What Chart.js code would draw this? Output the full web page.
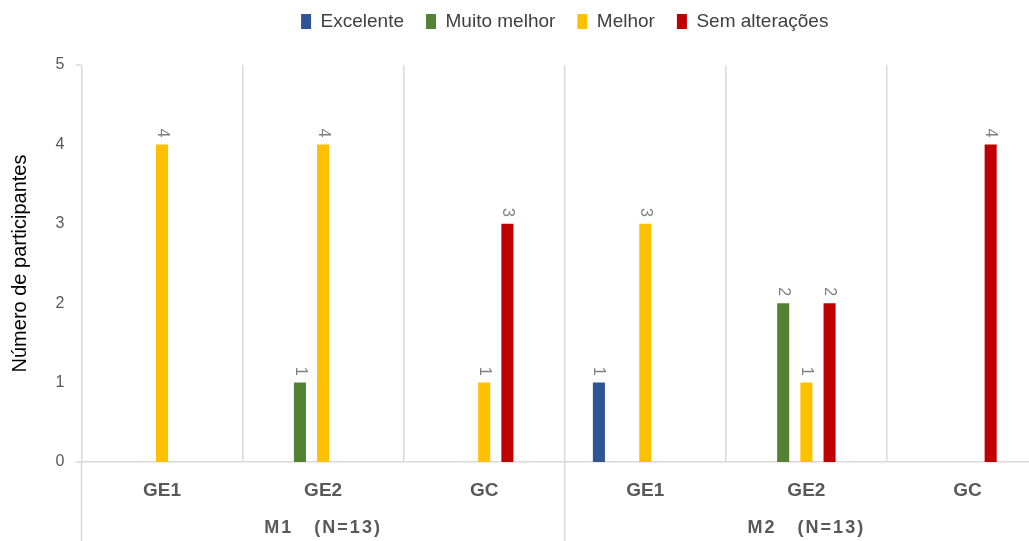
<!DOCTYPE html>
<html>
<head>
<meta charset="utf-8">
<script src="https://cdn.jsdelivr.net/npm/chart.js@4/dist/chart.umd.min.js"></script>
<style>
  html, body { margin: 0; padding: 0; background: #fff; overflow: hidden; }
</style>
</head>
<body>
<canvas id="myChart" width="1050" height="541"></canvas>
<script>
// categories, two levels
const categories = ['GE1', 'GE2', 'GC', 'GE1', 'GE2', 'GC'];
const groups = ['M1   (N=13)', 'M2   (N=13)'];
const groupSize = 3;

// series values (null = no bar)
const excelente = [null, null, null, 1, null, null];
const muitoMelhor = [null, 1, null, null, 2, null];
const melhor = [4, 4, 1, 3, 1, null];
const semAlteracoes = [null, null, 3, null, 2, 4];
const emptySlot = [null, null, null, null, null, null]; // empty 5th slot in the original

const yTicks = [0, 1, 2, 3, 4, 5];

const gridGrey = '#d9d9d9';
const textGrey = '#595959';

// rotated value labels above bars
const valueLabels = {
  id: 'valueLabels',
  afterDatasetsDraw(chart) {
    const ctx = chart.ctx;
    ctx.save();
    ctx.fillStyle = '#808080';
    ctx.font = '16px "Liberation Sans", Arial, sans-serif';
    chart.data.datasets.forEach((ds, i) => {
      const meta = chart.getDatasetMeta(i);
      meta.data.forEach((bar, j) => {
        const v = ds.data[j];
        if (v === null || v === undefined) return;
        ctx.save();
        ctx.translate(bar.x, bar.y - 7);
        ctx.rotate(Math.PI / 2);
        ctx.textAlign = 'right';
        ctx.textBaseline = 'middle';
        ctx.fillText(String(v), 0, 0);
        ctx.restore();
      });
    });
    ctx.restore();
  }
};

// second level of category axis + long dividers
const groupAxis = {
  id: 'groupAxis',
  afterDraw(chart) {
    const ctx = chart.ctx;
    const x = chart.scales.x;
    const area = chart.chartArea;
    const step = x.getPixelForValue(1) - x.getPixelForValue(0);
    ctx.save();
    ctx.strokeStyle = gridGrey;
    ctx.lineWidth = 1.5;
    for (let g = 0; g <= groups.length; g++) {
      const px = x.getPixelForValue(g * groupSize) - step / 2;
      ctx.beginPath();
      ctx.moveTo(px, area.bottom);
      ctx.lineTo(px, chart.height);
      ctx.stroke();
    }
    // small ticks left of the axis at 0 and 5
    const y = chart.scales.y;
    [y.min, y.max].forEach(v => {
      const py = y.getPixelForValue(v);
      ctx.beginPath();
      ctx.moveTo(area.left - 6, py);
      ctx.lineTo(area.left, py);
      ctx.stroke();
    });
    ctx.fillStyle = textGrey;
    ctx.font = 'bold 18px "Liberation Sans", Arial, sans-serif';
    ctx.letterSpacing = '2px';
    ctx.textAlign = 'center';
    ctx.textBaseline = 'middle';
    groups.forEach((g, i) => {
      const a = x.getPixelForValue(i * groupSize);
      const b = x.getPixelForValue(i * groupSize + groupSize - 1);
      ctx.fillText(g, (a + b) / 2, area.bottom + 66);
    });
    ctx.restore();
  }
};

// extra space under the legend
const legendSpace = {
  id: 'legendSpace',
  beforeInit(chart) {
    const fit = chart.legend.fit;
    chart.legend.fit = function () {
      fit.bind(chart.legend)();
      this.height += 24;
    };
  }
};

const data = {
  labels: categories,
  datasets: [
    { label: 'Excelente', data: excelente, backgroundColor: '#2f5597' },
    { label: 'Muito melhor', data: muitoMelhor, backgroundColor: '#548235' },
    { label: 'Melhor', data: melhor, backgroundColor: '#ffc000' },
    { label: 'Sem alterações', data: semAlteracoes, backgroundColor: '#c00000' },
    { label: '', data: emptySlot, backgroundColor: 'rgba(0,0,0,0)' }
  ]
};

const config = {
  type: 'bar',
  data: data,
  options: {
    responsive: false,
    animation: false,
    datasets: {
      bar: { barPercentage: 0.52, categoryPercentage: 0.72 }
    },
    layout: { padding: { top: -10, right: 2, left: 0, bottom: 0 } },
    plugins: {
      tooltip: { enabled: false },
      legend: {
        position: 'top',
        fullSize: false,
        labels: {
          filter: item => item.text !== '',
          boxWidth: 10,
          boxHeight: 15,
          padding: 22,
          color: '#404040',
          font: { size: 19, family: '"Liberation Sans", Arial, sans-serif' }
        }
      }
    },
    scales: {
      x: {
        grid: { color: gridGrey, lineWidth: 1.5, drawTicks: false, offset: true },
        border: { color: gridGrey, width: 1.5 },
        ticks: {
          color: textGrey,
          padding: 17,
          font: { size: 19, weight: 'bold', family: '"Liberation Sans", Arial, sans-serif' }
        },
        afterFit(scale) { scale.height = 79; }
      },
      y: {
        min: 0,
        max: 5,
        afterBuildTicks(scale) { scale.ticks = yTicks.map(v => ({ value: v })); },
        grid: { display: false },
        border: { display: false },
        ticks: {
          color: textGrey,
          padding: 9,
          font: { size: 16, family: '"Liberation Sans", Arial, sans-serif' }
        },
        title: {
          display: true,
          text: 'Número de participantes',
          color: '#000',
          padding: { top: 8, bottom: 0 },
          font: { size: 20, family: '"Liberation Sans", Arial, sans-serif' }
        },
        afterFit(scale) { scale.width = 81.5; }
      }
    }
  },
  plugins: [valueLabels, groupAxis, legendSpace]
};

const myChart = new Chart(document.getElementById('myChart'), config);
</script>
</body>
</html>
